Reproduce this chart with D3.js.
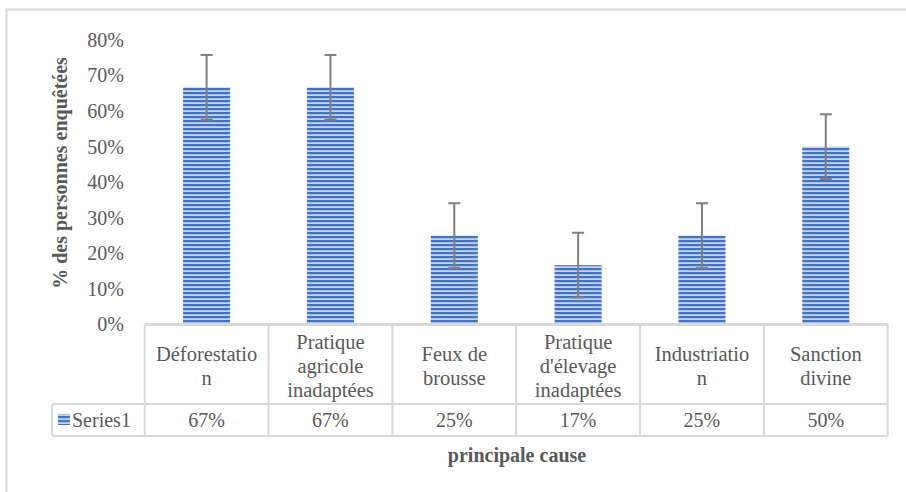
<!DOCTYPE html>
<html>
<head>
<meta charset="utf-8">
<script src="https://cdn.jsdelivr.net/npm/d3@7"></script>
<style>
  body { margin: 0; background: #fff; }
  svg text { font-family: "Liberation Serif", "Times New Roman", serif; fill: #595959; }
</style>
</head>
<body>
<script>
// data
const categories = ["Déforestation", "Pratique agricole inadaptées", "Feux de brousse",
  "Pratique d'élevage inadaptées", "Industriation", "Sanction divine"];
// category labels as they wrap in the data table
const categoryLines = [["Déforestatio", "n"], ["Pratique", "agricole", "inadaptées"], ["Feux de", "brousse"],
  ["Pratique", "d'élevage", "inadaptées"], ["Industriatio", "n"], ["Sanction", "divine"]];
const values = [0.667, 0.667, 0.25, 0.167, 0.25, 0.5];
const errors = [0.091, 0.091, 0.091, 0.091, 0.091, 0.091];
const yTicks = [0, 0.1, 0.2, 0.3, 0.4, 0.5, 0.6, 0.7, 0.8];
const seriesName = "Series1";

const W = 906, H = 492;
const svg = d3.select("body").append("svg").attr("width", W).attr("height", H);

const defs = svg.append("defs");
const pat = defs.append("pattern").attr("id", "stripes")
  .attr("patternUnits", "userSpaceOnUse").attr("width", 8).attr("height", 4);
pat.append("rect").attr("width", 8).attr("height", 4).attr("fill", "#c3d2ee");
pat.append("rect").attr("width", 8).attr("height", 2.2).attr("fill", "#4472c4");

// chart frame (runs off the right/bottom edge)
svg.append("rect").attr("x", 6.5).attr("y", 9.5).attr("width", 920).attr("height", 520)
  .attr("fill", "none").attr("stroke", "#d9d9d9").attr("stroke-width", 2);

const plotLeft = 144.7, plotRight = 887.7, plotTop = 40, plotBottom = 324.5;
const x = d3.scaleBand().domain(categories).range([plotLeft, plotRight]).padding(0);
const y = d3.scaleLinear().domain([0, 0.8]).range([plotBottom, plotTop]);
const fmt = d3.format(".0%");

// y axis labels
const yAxis = svg.append("g").attr("transform", `translate(${124},0)`)
  .call(d3.axisLeft(y).tickValues(yTicks).tickFormat(fmt).tickSize(0).tickPadding(0));
yAxis.attr("font-family", null).attr("font-size", null);
yAxis.select(".domain").remove();
yAxis.selectAll("text").attr("fill", null)
  .style("font-family", "'Liberation Serif', serif").style("font-size", "20px");

// bars
const bw = x.bandwidth() * 0.38;
svg.append("g").selectAll("rect").data(values).enter().append("rect")
  .attr("x", (d, i) => x(categories[i]) + (x.bandwidth() - bw) / 2)
  .attr("y", d => y(d))
  .attr("width", bw)
  .attr("height", d => y(0) - y(d))
  .attr("fill", "url(#stripes)");

// error bars
const eb = svg.append("g").attr("stroke", "#7f7f7f").attr("stroke-width", 2);
values.forEach((v, i) => {
  const cx = x(categories[i]) + x.bandwidth() / 2;
  eb.append("line").attr("x1", cx).attr("x2", cx).attr("y1", y(v + errors[i])).attr("y2", y(v - errors[i]));
  eb.append("line").attr("x1", cx - 6).attr("x2", cx + 6).attr("y1", y(v + errors[i])).attr("y2", y(v + errors[i]));
  eb.append("line").attr("x1", cx - 6).attr("x2", cx + 6).attr("y1", y(v - errors[i])).attr("y2", y(v - errors[i]));
});

// data table
const rowTop = plotBottom, rowMid = 404, rowBot = 436;
const grid = svg.append("g").attr("stroke", "#d9d9d9").attr("stroke-width", 2).attr("fill", "none");
grid.append("line").attr("x1", plotLeft).attr("x2", plotRight).attr("y1", rowTop).attr("y2", rowTop).attr("stroke-width", 3);
grid.append("line").attr("x1", 52).attr("x2", plotRight).attr("y1", rowMid).attr("y2", rowMid);
grid.append("line").attr("x1", 52).attr("x2", plotRight).attr("y1", rowBot).attr("y2", rowBot);
grid.append("line").attr("x1", 52).attr("x2", 52).attr("y1", rowMid).attr("y2", rowBot);
categories.forEach(c => {
  grid.append("line").attr("x1", x(c)).attr("x2", x(c)).attr("y1", rowTop).attr("y2", rowBot);
});
grid.append("line").attr("x1", plotRight).attr("x2", plotRight).attr("y1", rowTop).attr("y2", rowBot);

const lh = 24;
categoryLines.forEach((lines, i) => {
  const cx = x(categories[i]) + x.bandwidth() / 2;
  const cy = (rowTop + rowMid) / 2 + 2;
  lines.forEach((ln, j) => {
    svg.append("text").attr("x", cx).attr("y", cy + (j - (lines.length - 1) / 2) * lh)
      .attr("dy", "0.35em").attr("text-anchor", "middle").style("font-size", "20.5px").text(ln);
  });
  svg.append("text").attr("x", cx).attr("y", (rowMid + rowBot) / 2)
    .attr("dy", "0.35em").attr("text-anchor", "middle").style("font-size", "20px").text(fmt(values[i]));
});

// legend key in table
svg.append("rect").attr("x", 58).attr("y", 414).attr("width", 12).attr("height", 11).attr("fill", "url(#stripes)");
svg.append("text").attr("x", 72).attr("y", (rowMid + rowBot) / 2).attr("dy", "0.35em")
  .style("font-size", "20px").text(seriesName);

// axis titles
svg.append("text").attr("x", 517).attr("y", 455).attr("dy", "0.35em").attr("text-anchor", "middle")
  .style("font-size", "20px").style("font-weight", "bold").text("principale cause");
svg.append("text").attr("transform", "translate(60,173) rotate(-90)").attr("dy", "0.35em")
  .attr("text-anchor", "middle").style("font-size", "20px").style("font-weight", "bold")
  .text("% des personnes enquêtées");
</script>
</body>
</html>
